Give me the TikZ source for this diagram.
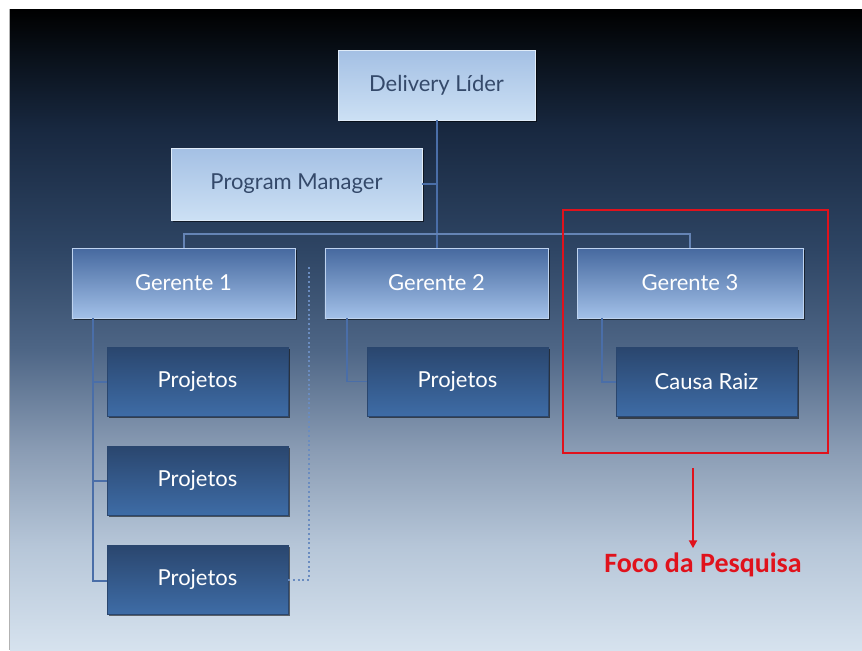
\documentclass[tikz,border=0pt]{standalone}
\usepackage{fontspec}
\setmainfont{Lato}
\newfontfamily\focofont{Carlito}
\usetikzlibrary{shadows,arrows.meta}
\definecolor{bg0}{HTML}{000000}
\definecolor{bg1}{HTML}{0A121C}
\definecolor{bg2}{HTML}{182840}
\definecolor{bg3}{HTML}{2E4564}
\definecolor{bg4}{HTML}{4E6686}
\definecolor{bg5}{HTML}{8A9CB4}
\definecolor{bg6}{HTML}{B6C6D8}
\definecolor{bg7}{HTML}{D6E2EE}
\pgfdeclareverticalshading{bgshade}{100bp}{color(0bp)=(bg7); color(25bp)=(bg7); color(33.1bp)=(bg6); color(40.6bp)=(bg5); color(48.4bp)=(bg4); color(56.25bp)=(bg3); color(65.6bp)=(bg2); color(71bp)=(bg1); color(75bp)=(bg0); color(100bp)=(bg0)}
\definecolor{topA}{HTML}{A4C0E4}
\definecolor{topB}{HTML}{CCE0F4}
\definecolor{topTxt}{HTML}{34496A}
\definecolor{midA}{HTML}{46699F}
\definecolor{midB}{HTML}{A2C0E8}
\definecolor{leafA}{HTML}{2A466E}
\definecolor{leafB}{HTML}{3E6CA6}
\definecolor{conn}{HTML}{4A6EA8}
\definecolor{dotc}{HTML}{6A8CC0}
\definecolor{focored}{HTML}{E0121C}
\tikzset{
  box/.style={rectangle, font=\fontsize{16.5}{19}\selectfont, inner sep=0pt,
    drop shadow={shadow xshift=1.5pt, shadow yshift=-1.5pt, opacity=0.55, fill=black}},
  topbox/.style={box, top color=topA, bottom color=topB, draw=topB!60!white, line width=0.5pt, text=topTxt},
  midbox/.style={box, top color=midA, bottom color=midB, draw=midB!70!white, line width=0.4pt, text=white,
    minimum width=167.5pt, minimum height=52.5pt},
  leafbox/.style={box, top color=leafA, bottom color=leafB, draw=leafA, line width=0.4pt, text=white,
    minimum width=135.75pt, minimum height=51.75pt},
  conline/.style={draw=conn, line width=1.5pt},
}
\begin{document}
\begin{tikzpicture}[x=0.75pt,y=-0.75pt]
\useasboundingbox (0,0) rectangle (862,650);
\fill[white] (0,0) rectangle (862,650);
\shade[shading=bgshade] (10,9) rectangle (862,650);
\draw[gray!60, line width=0.8pt] (9.5,9) -- (9.5,650);

\node[topbox, minimum width=147.75pt, minimum height=52.5pt] (dl) at (436.5,85) {Delivery Líder};
\node[topbox, minimum width=188.25pt, minimum height=54pt] (pm) at (296.5,184) {Program Manager};
\node[midbox] (g1) at (183.5,283) {Gerente 1};
\node[midbox] (g2) at (436.5,283) {Gerente 2};
\node[midbox, minimum width=169.5pt] (g3) at (690,283) {Gerente 3};
\node[leafbox] (p1) at (197.5,381.5) {Projetos};
\node[leafbox] (p2) at (197.5,480.5) {Projetos};
\node[leafbox] (p3) at (197.5,579.5) {Projetos};
\node[leafbox] (p4) at (457.5,381.5) {Projetos};
\node[leafbox] (cr) at (706.5,382) {Causa Raiz};

\draw[conline] (dl.south) -- (dl.south |- g2.north);
\draw[conline] (pm.east) -- (pm.east -| dl.south);
\draw[conline, draw=conn!85!white] (g1.north) -- ++(0,-14) -| (g3.north);

\coordinate (t1) at (93,318);
\draw[conline] (t1) |- (p1.west);
\draw[conline] (t1) |- (p2.west);
\draw[conline] (t1) |- ([yshift=-1pt]p3.west);
\coordinate (t2) at (347,318);
\draw[conline, line width=1.2pt] (t2) |- (p4.west);
\coordinate (t3) at (602,318);
\draw[conline, line width=1.2pt] (t3) |- (cr.west);

\coordinate (dtop) at (309,266);
\draw[dotc, line width=1.5pt, dotted] (p3.east) -| (dtop);

\node[draw=focored, line width=1.6pt, minimum width=198.75pt, minimum height=182.25pt, inner sep=0pt] (focus) at (695.5,331.5) {};
\node[text=focored, font=\focofont\bfseries\fontsize{21}{24}\selectfont] (foco) at (703,565) {Foco da Pesquisa};
\coordinate (a1) at (693,468);
\draw[focored, line width=1.5pt, -{Triangle[length=6pt,width=6pt]}] (a1) -- (a1 |- foco.north);
\end{tikzpicture}
\end{document}
